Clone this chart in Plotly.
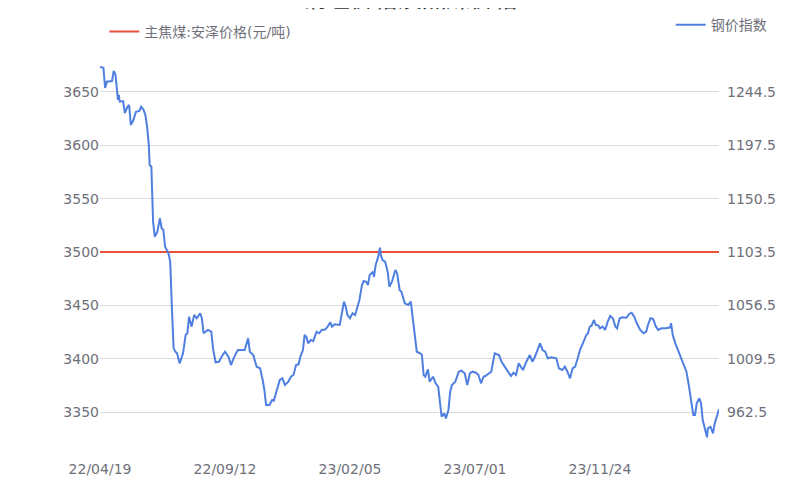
import pandas as pd
import plotly.graph_objects as go

title_text = "钢坯价格及焦煤价格"
coal_name = "主焦煤:安泽价格(元/吨)"
steel_name = "钢价指数"

start_date = "2022-04-19"
end_date = "2024-04-11"

# steel price index (right axis): day offset from start_date, value
steel_days = [0, 4, 6, 8, 14, 16, 18, 20, 21, 22, 23, 27, 29, 32, 34, 36, 39, 42, 46, 48,
              51, 53, 55, 57, 58, 60, 61, 62, 64, 67, 70, 72, 74, 76, 80, 82, 84, 86, 88, 90,
              93, 97, 100, 102, 104, 107, 110, 113, 117, 119, 121, 126, 130, 132, 135, 139, 142, 146, 150, 153,
              156, 161, 169, 173, 175, 179, 183, 187, 190, 192, 194, 198, 201, 203, 206, 210, 213, 216, 220, 223,
              226, 229, 232, 234, 237, 239, 241, 243, 246, 249, 253, 256, 259, 263, 265, 269, 271, 274, 280, 282,
              285, 287, 289, 292, 295, 298, 301, 303, 306, 308, 311, 313, 315, 319, 320, 322, 325, 327, 328, 330,
              333, 336, 338, 341, 345, 347, 350, 352, 356, 360, 363, 365, 368, 370, 374, 376, 378, 380, 383, 385,
              389, 392, 395, 397, 399, 402, 404, 407, 409, 411, 415, 419, 422, 426, 429, 432, 435, 439, 442, 445,
              448, 450, 454, 457, 461, 463, 466, 469, 473, 477, 480, 483, 486, 489, 492, 494, 498, 500, 502, 505,
              508, 511, 514, 517, 520, 523, 527, 533, 536, 540, 543, 546, 549, 552, 555, 558, 561, 564, 568, 570,
              572, 574, 577, 579, 582, 584, 587, 590, 593, 596, 599, 602, 604, 607, 610, 615, 618, 621, 624, 627,
              631, 635, 638, 640, 643, 646, 649, 652, 656, 661, 666, 667, 669, 672, 675, 679, 683, 685, 688, 690,
              693, 695, 697, 700, 702, 704, 706, 709, 710, 713, 716, 718, 721, 723]
steel_values = [1266.5, 1265.9, 1248.0, 1253.6, 1254.2, 1263.0, 1260.1, 1247.8, 1237.5, 1241.9, 1236.0, 1236.5, 1226.0, 1231.5, 1233.0, 1215.4, 1219.8, 1227.1, 1227.8, 1231.5,
                1228.6, 1224.2, 1213.9, 1197.8, 1180.2, 1178.7, 1153.7, 1130.2, 1117.0, 1121.4, 1133.2, 1124.4, 1122.9, 1108.2, 1102.4, 1095.0, 1053.9, 1018.6, 1015.6, 1014.2,
                1005.4, 1014.2, 1030.4, 1031.9, 1046.5, 1037.7, 1048.0, 1045.1, 1049.5, 1045.1, 1031.9, 1034.8, 1033.3, 1018.6, 1006.3, 1006.8, 1011.2, 1015.6, 1011.2, 1003.9,
                1009.8, 1017.1, 1017.1, 1027.4, 1015.6, 1012.7, 1002.4, 1001.0, 990.7, 981.9, 968.7, 968.7, 973.1, 972.5, 980.4, 990.7, 992.2, 986.3, 989.2, 993.6,
                995.1, 1003.9, 1004.5, 1011.2, 1017.1, 1030.4, 1028.9, 1023.0, 1025.9, 1025.0, 1033.3, 1031.9, 1034.8, 1035.2, 1036.8, 1041.5, 1037.7, 1039.8, 1039.2, 1046.5,
                1059.7, 1055.3, 1048.0, 1045.1, 1049.5, 1048.0, 1055.3, 1061.2, 1074.4, 1077.9, 1077.3, 1074.4, 1083.2, 1086.1, 1081.7, 1092.0, 1099.4, 1107.3, 1100.9, 1096.4,
                1095.0, 1086.1, 1072.9, 1077.3, 1087.6, 1084.7, 1070.0, 1068.5, 1058.3, 1056.8, 1059.7, 1048.0, 1030.4, 1015.6, 1014.2, 1012.7, 995.1, 993.6, 1000.1, 989.2,
                993.6, 987.8, 984.8, 973.1, 958.4, 961.4, 956.9, 964.3, 980.4, 986.3, 989.2, 998.0, 998.9, 996.6, 986.3, 996.6, 998.0, 997.1, 995.1, 987.8,
                993.6, 994.2, 996.6, 998.0, 1014.2, 1013.4, 1012.7, 1006.8, 1002.4, 998.0, 994.2, 997.1, 995.1, 1005.4, 1002.4, 999.5, 1006.8, 1009.8, 1012.7, 1006.8,
                1011.2, 1017.1, 1023.0, 1017.1, 1015.6, 1009.8, 1010.7, 1009.8, 1001.0, 999.5, 1002.4, 998.0, 992.2, 1001.0, 1002.4, 1009.8, 1018.0, 1023.0, 1030.4, 1031.9,
                1037.7, 1038.3, 1043.6, 1039.2, 1038.8, 1036.3, 1037.7, 1034.8, 1042.1, 1047.1, 1045.1, 1037.7, 1036.3, 1045.1, 1046.0, 1045.6, 1048.9, 1050.0, 1046.5, 1040.7,
                1034.8, 1031.9, 1033.3, 1039.2, 1045.1, 1044.6, 1038.3, 1034.8, 1036.3, 1036.3, 1037.1, 1040.7, 1030.4, 1023.0, 1017.1, 1009.8, 1002.4, 998.0, 984.8, 973.1,
                959.9, 959.9, 970.2, 974.6, 970.2, 955.4, 948.1, 940.2, 948.1, 949.5, 943.7, 952.5, 959.9, 964.9]

# coking coal price (left axis)
coal_dates = [start_date, end_date]
coal_values = [3500, 3500]

left_ticks = [3350, 3400, 3450, 3500, 3550, 3600, 3650]
right_ticks = [962.5, 1009.5, 1056.5, 1103.5, 1150.5, 1197.5, 1244.5]
x_tick_dates = ["2022-04-19", "2022-09-12", "2023-02-05", "2023-07-01", "2023-11-24"]
x_tick_labels = ["22/04/19", "22/09/12", "23/02/05", "23/07/01", "23/11/24"]

steel_dates = pd.Timestamp(start_date) + pd.to_timedelta(steel_days, unit="D")

FONT = "DejaVu Sans, Noto Sans CJK SC, sans-serif"
TXT = "#6e7079"

fig = go.Figure()
fig.add_trace(go.Scatter(x=coal_dates, y=coal_values, mode="lines", name=coal_name,
                         line=dict(color="#e8513a", width=2), yaxis="y", legend="legend",
                         showlegend=True))
fig.add_trace(go.Scatter(x=steel_dates, y=steel_values, mode="lines", name=steel_name,
                         line=dict(color="#4f7fe0", width=2), yaxis="y2", legend="legend2",
                         showlegend=True))

fig.update_layout(
    width=800, height=500,
    showlegend=True,
    margin=dict(l=92, r=89, t=41, b=53, autoexpand=False),
    plot_bgcolor="white", paper_bgcolor="white",
    font=dict(family=FONT, size=14, color=TXT),
    xaxis=dict(type="date", range=[start_date, end_date], tickvals=x_tick_dates,
               ticktext=x_tick_labels, showgrid=False, showline=False, zeroline=False,
               ticks="", tickfont=dict(size=14, color=TXT), automargin=False,
               ticklabelstandoff=4),
    yaxis=dict(range=[3309.7, 3690.3], tickvals=left_ticks, showgrid=True, gridcolor="#dcdcdc",
               gridwidth=1, zeroline=False, showline=False, ticks="",
               tickfont=dict(size=14, color=TXT), automargin=False),
    yaxis2=dict(range=[924.6, 1282.4], tickvals=right_ticks, overlaying="y", side="right",
                showgrid=False, zeroline=False, showline=False, ticks="",
                tickformat=".1f", tickfont=dict(size=14, color=TXT), automargin=False,
                ticklabelstandoff=7),
    legend=dict(x=0.007, y=1.042, xanchor="left", yanchor="middle", orientation="h",
                font=dict(size=14, color=TXT), bgcolor="rgba(0,0,0,0)"),
    legend2=dict(x=0.922, y=1.059, xanchor="left", yanchor="middle", orientation="h",
                 font=dict(size=14, color=TXT), bgcolor="rgba(0,0,0,0)"),
    annotations=[dict(text=title_text, xref="paper", yref="paper", x=0.5, y=1.083,
                      xanchor="center", yanchor="bottom", showarrow=False,
                      font=dict(size=24, color="#333333", family=FONT))],
)

fig.write_html("out.html")
